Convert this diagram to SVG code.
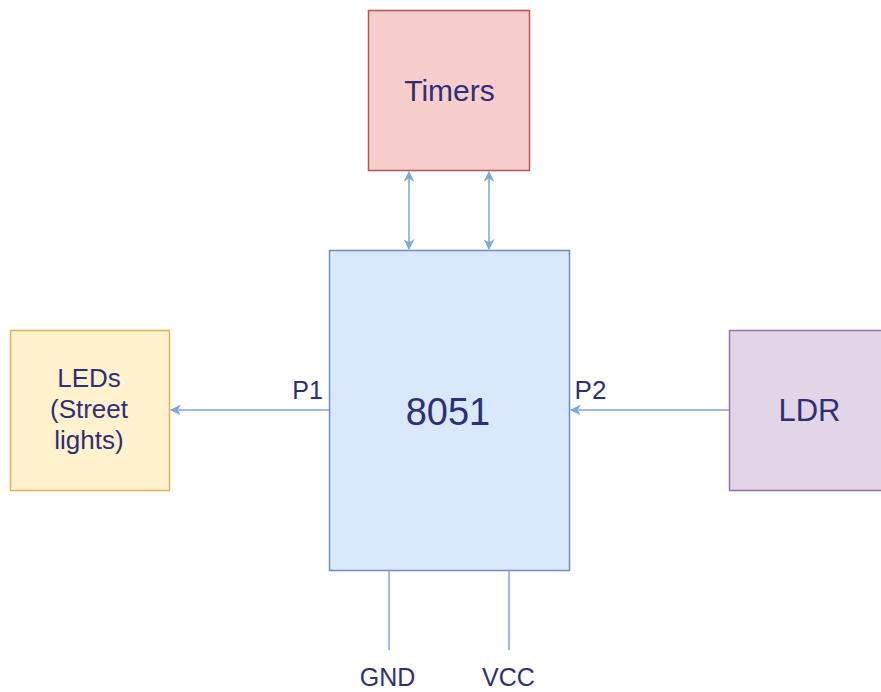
<svg xmlns="http://www.w3.org/2000/svg" width="881" height="692" viewBox="0 0 881 692">
<defs>
<marker id="ah" viewBox="0 0 10 10" refX="9" refY="5" markerWidth="11" markerHeight="11" markerUnits="userSpaceOnUse" orient="auto-start-reverse">
<path d="M0,0 L10,5 L0,10 L3,5 Z" fill="#7ea6e0"/>
</marker>
<style>
text{font-family:"Liberation Sans",Arial,sans-serif;fill:#2f2f78;text-anchor:middle}
.c{stroke:#7ea6e0;stroke-width:1.5;fill:none}
</style>
</defs>
<rect width="881" height="692" fill="#ffffff"/>
<g id="timers">
<rect x="368.5" y="10.5" width="161" height="160" fill="#f8cecc" stroke="#b85450" stroke-width="1.5"/>
<text x="449.5" y="101" font-size="30">Timers</text>
</g>
<g id="mcu">
<rect x="329.5" y="250.5" width="240" height="320" fill="#dae8fc" stroke="#6c8ebf" stroke-width="1.5"/>
<text x="448" y="425" font-size="38">8051</text>
</g>
<g id="leds">
<rect x="10.5" y="330.5" width="159" height="160" fill="#fff2cc" stroke="#d6b656" stroke-width="1.5"/>
<text x="89" y="387" font-size="26">LEDs</text>
<text x="89" y="418" font-size="26">(Street</text>
<text x="89" y="449" font-size="26">lights)</text>
</g>
<g id="ldr">
<rect x="729.5" y="330.5" width="160" height="160" fill="#e1d5e7" stroke="#9673a6" stroke-width="1.5"/>
<text x="809.5" y="421" font-size="31">LDR</text>
</g>
<g id="connectors">
<line class="c" x1="409" y1="172" x2="409" y2="249" marker-start="url(#ah)" marker-end="url(#ah)"/>
<line class="c" x1="489" y1="172" x2="489" y2="249" marker-start="url(#ah)" marker-end="url(#ah)"/>
<line class="c" x1="329" y1="410" x2="171" y2="410" marker-end="url(#ah)"/>
<line class="c" x1="729" y1="410" x2="571" y2="410" marker-end="url(#ah)"/>
<line class="c" x1="389" y1="571" x2="389" y2="650"/>
<line class="c" x1="509" y1="571" x2="509" y2="650"/>
</g>
<g id="labels">
<text x="307.5" y="399" font-size="25">P1</text>
<text x="590.5" y="399" font-size="26">P2</text>
<text x="387.5" y="686" font-size="25">GND</text>
<text x="508.5" y="686" font-size="25">VCC</text>
</g>
</svg>
